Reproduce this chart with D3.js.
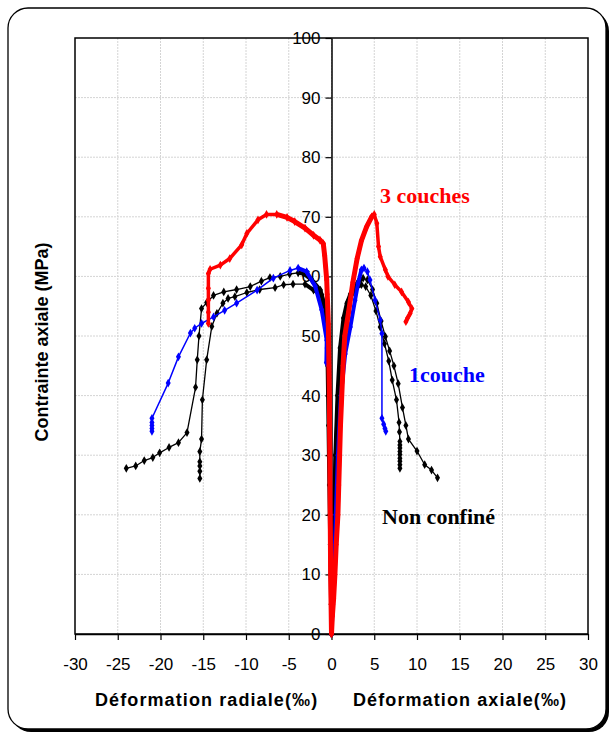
<!DOCTYPE html>
<html>
<head>
<meta charset="utf-8">
<script src="https://cdn.jsdelivr.net/npm/d3@7"></script>
<style>
  body { margin: 0; background: #fff; }
  svg { display: block; }
  .tick text { font-family: Arial, "Liberation Sans", sans-serif; font-size: 17px; fill: #000; }
</style>
</head>
<body>
<svg id="chart" width="613" height="736"></svg>
<script>
// strain (per mille) vs axial stress (MPa)
// radial branches are negative, axial branches positive
const xTicks = [-30, -25, -20, -15, -10, -5, 0, 5, 10, 15, 20, 25, 30];
const yTicks = [0, 10, 20, 30, 40, 50, 60, 70, 80, 90, 100];

// non confine, specimen A
const ncA_radial = [[0,0],[-0.05,5],[-0.1,10],[-0.15,15],[-0.2,20],[-0.25,25],[-0.3,30],[-0.35,35],[-0.4,40],[-0.45,45],[-0.5,48],[-0.56,51.6],[-0.76,54.9],[-1.3,57.7],[-2.3,59.4],[-3.3,60.5],[-3.9,60.6],[-4.9,60.4],[-6.0,60.0],[-7.2,59.8],[-8.2,59.2],[-9.5,58.3],[-11.1,57.8],[-12.6,57.4],[-13.8,56.8],[-14.6,55.6],[-15.2,54.6],[-15.5,50],[-15.7,46],[-15.9,41.4],[-16.9,33.8],[-17.9,32.1],[-19.0,31.3],[-20.1,30.4],[-20.9,29.6],[-21.9,29.1],[-22.9,28.2],[-24.0,27.8]];
const ncA_axial = [[0,0],[0.1,5],[0.2,10],[0.3,20],[0.45,30],[0.7,40],[1.0,48],[1.4,53],[1.8,55.5],[2.2,57.0],[2.7,58.3],[3.2,59.3],[3.7,59.7],[4.2,59.4],[4.8,57.8],[5.3,55.5],[5.8,52.5],[6.3,49.9],[6.8,47.5],[7.3,45],[7.8,42],[8.3,38],[8.7,35],[9.0,32.7],[10.0,30.7],[10.9,28.4],[11.7,27.5],[12.4,26.2]];

// non confine, specimen B
const ncB_radial = [[0,0],[-0.05,10],[-0.1,20],[-0.2,30],[-0.3,40],[-0.45,48],[-0.7,53],[-1.15,56.9],[-2.1,57.7],[-3.1,58.7],[-4.5,58.7],[-5.6,58.6],[-6.6,58.1],[-8.4,57.8],[-9.9,57.3],[-11.3,56.6],[-12.1,56.3],[-12.7,55.5],[-13.4,53.8],[-14.0,51.6],[-14.6,46.0],[-15.1,39.3],[-15.2,32.7],[-15.4,30.6],[-15.4,28.9],[-15.4,28.2],[-15.4,27.3],[-15.4,26.1]];
const ncB_axial = [[0,0],[0.1,5],[0.2,10],[0.35,20],[0.5,30],[0.8,40],[1.1,48],[1.5,53],[2.0,55.8],[2.5,57.3],[3.0,58.2],[3.5,58.6],[4.0,58.3],[4.6,56.8],[5.2,54.2],[5.7,51.5],[6.2,48.7],[6.7,45.8],[7.1,42.6],[7.6,39.3],[7.9,35.5],[7.95,33.9],[8.0,32.3],[8.0,31.7],[8.0,31.2],[8.0,30.6],[8.0,30.1],[8.0,29.5],[8.0,29.0],[8.0,28.4],[8.0,27.8]];

// 1 couche
const c1_radial = [[-0.6,45.5],[-0.56,49.3],[-1.15,54.4],[-1.9,58.3],[-2.9,60.8],[-3.9,61.4],[-4.85,61.0],[-6.8,59.7],[-8.7,57.7],[-11.1,55.5],[-12.5,54.3],[-13.8,53.2],[-15.2,52.1],[-16.0,51.3],[-16.5,50.5],[-17.9,46.5],[-19.1,42.1],[-21.0,36.2],[-21.0,35.5],[-21.0,35.0],[-21.0,34.5],[-21.0,34.0]];
const c1_axial = [[0,0],[0.15,5],[0.3,10],[0.5,20],[0.75,30],[1.1,40],[1.6,47],[2.2,51.5],[2.75,56],[3.1,58.8],[3.5,61.1],[3.8,61.4],[4.2,60.8],[4.5,59.4],[5.1,56],[5.7,52.7],[5.9,50.4],[5.9,36.2],[6.1,35.2],[6.25,34.5],[6.35,34.0]];

// 3 couches
const c3_radial = [[0,0],[-0.05,5],[-0.1,10],[-0.15,20],[-0.2,30],[-0.25,40],[-0.3,45],[-0.37,52],[-0.5,57],[-0.56,59.4],[-0.8,63.5],[-0.96,65.5],[-1.35,66.1],[-2.1,66.9],[-3.1,68.1],[-4.3,69.2],[-5.2,69.9],[-6.4,70.4],[-7.6,70.4],[-8.6,69.5],[-9.9,67.2],[-10.5,65.3],[-11.9,63.0],[-13.0,61.9],[-14.2,61.2],[-14.4,60.5],[-14.4,58],[-14.4,56],[-14.4,54],[-14.4,52.1]];
const c3_axial = [[0,0],[0.1,3],[0.25,6],[0.4,10],[0.55,15],[0.75,20],[0.85,25],[0.95,30],[1.05,35],[1.2,40],[1.35,45],[1.55,50],[2.0,54],[2.5,59],[3.0,63],[3.5,66],[4.1,68.3],[4.7,70],[5.0,70.4],[5.3,68.9],[5.5,65.0],[5.7,63.3],[6.3,61.1],[6.6,60.0],[7.4,58.6],[8.2,57.4],[9.0,55.7],[9.4,54.6],[9.2,53.8],[8.9,53.0],[8.7,52.4]];

const series = [
  { data: ncA_radial, color: '#000', thin: 1.3, thick: 4 },
  { data: ncA_axial,  color: '#000', thin: 1.3, thick: 4 },
  { data: ncB_radial, color: '#000', thin: 1.3, thick: 4 },
  { data: ncB_axial,  color: '#000', thin: 1.3, thick: 4 },
  { data: c1_radial,  color: '#0000ff', thin: 1.5, thick: 4 },
  { data: c1_axial,   color: '#0000ff', thin: 1.5, thick: 4 },
  { data: c3_radial,  color: '#ff0000', thin: 3.5, thick: 5 },
  { data: c3_axial,   color: '#ff0000', thin: 3.5, thick: 5 }
];

const svg = d3.select('#chart');
const x = d3.scaleLinear().domain([-30, 30]).range([75, 588]);
const y = d3.scaleLinear().domain([0, 100]).range([634, 38]);

// outer rounded frame with shadow
svg.append('rect').attr('x', 11).attr('y', 11).attr('width', 598).attr('height', 721)
  .attr('rx', 20).attr('fill', '#000');
svg.append('rect').attr('x', 8).attr('y', 8).attr('width', 598).attr('height', 721)
  .attr('rx', 20).attr('fill', '#fff').attr('stroke', '#000').attr('stroke-width', 1.3);

// grid
svg.append('g').selectAll('line.gx').data(xTicks.slice(1, -1)).join('line')
  .attr('x1', d => x(d)).attr('x2', d => x(d)).attr('y1', y(0)).attr('y2', y(100))
  .attr('stroke', '#d4d4d4').attr('stroke-dasharray', '2,1');
svg.append('g').selectAll('line.gy').data(yTicks.slice(1, -1)).join('line')
  .attr('x1', x(-30)).attr('x2', x(30)).attr('y1', d => y(d)).attr('y2', d => y(d))
  .attr('stroke', '#d4d4d4').attr('stroke-dasharray', '2,1');

// plot frame
svg.append('rect').attr('x', x(-30)).attr('y', y(100))
  .attr('width', x(30) - x(-30)).attr('height', y(0) - y(100))
  .attr('fill', 'none').attr('stroke', '#000').attr('stroke-width', 1.5);

// axes (plain hyphen for negatives, like the original)
svg.append('g').attr('transform', `translate(0,${y(0)})`)
  .call(d3.axisBottom(x).tickValues(xTicks).tickFormat(d => String(d))
    .tickSize(6).tickSizeOuter(0).tickPadding(18))
  .call(g => g.select('.domain').attr('stroke-width', 1.5))
  .call(g => g.selectAll('.tick line').attr('stroke-width', 1.2));
svg.append('g').attr('transform', `translate(${x(0)},0)`)
  .call(d3.axisLeft(y).tickValues(yTicks).tickFormat(d => String(d))
    .tickSize(6).tickSizeOuter(0).tickPadding(5))
  .call(g => g.select('.domain').attr('stroke-width', 1.5))
  .call(g => g.selectAll('.tick line').attr('stroke-width', 1.2));

// curves
const line = d3.line().x(d => x(d[0])).y(d => y(d[1]));
const diamond = d3.symbol().type(d3.symbolDiamond).size(22);
const curves = svg.append('g');
series.forEach(s => {
  const peak = d3.maxIndex(s.data, d => d[1]);
  curves.append('path').datum(s.data.slice(0, peak + 1)).attr('d', line)
    .attr('fill', 'none').attr('stroke', s.color).attr('stroke-width', s.thick)
    .attr('stroke-linejoin', 'round');
  curves.append('path').datum(s.data).attr('d', line)
    .attr('fill', 'none').attr('stroke', s.color).attr('stroke-width', s.thin)
    .attr('stroke-linejoin', 'round');
  curves.append('g').selectAll('path').data(s.data).join('path')
    .attr('transform', d => `translate(${x(d[0])},${y(d[1])})`)
    .attr('d', diamond).attr('fill', s.color);
});

// labels
const serif = 'Times New Roman, "Liberation Serif", "DejaVu Serif", serif';
const sans = 'Arial, "Liberation Sans", sans-serif';
svg.append('text').attr('x', 380).attr('y', 203).text('3 couches')
  .attr('font-family', serif).attr('font-weight', 'bold').attr('font-size', 22).attr('fill', '#ff0000');
svg.append('text').attr('x', 409).attr('y', 382).text('1couche')
  .attr('font-family', serif).attr('font-weight', 'bold').attr('font-size', 22).attr('fill', '#0000ff');
svg.append('text').attr('x', 382).attr('y', 524).text('Non confiné')
  .attr('font-family', serif).attr('font-weight', 'bold').attr('font-size', 22).attr('fill', '#000');

svg.append('text').attr('transform', 'translate(48,342) rotate(-90)').attr('text-anchor', 'middle')
  .text('Contrainte axiale (MPa)')
  .attr('font-family', sans).attr('font-weight', 'bold').attr('font-size', 18);
svg.append('text').attr('x', 95).attr('y', 706).text('Déformation radiale(‰)')
  .attr('font-family', sans).attr('font-weight', 'bold').attr('font-size', 18).attr('letter-spacing', 1.1);
svg.append('text').attr('x', 353).attr('y', 706).text('Déformation axiale(‰)')
  .attr('font-family', sans).attr('font-weight', 'bold').attr('font-size', 18).attr('letter-spacing', 1.1);
</script>
</body>
</html>
